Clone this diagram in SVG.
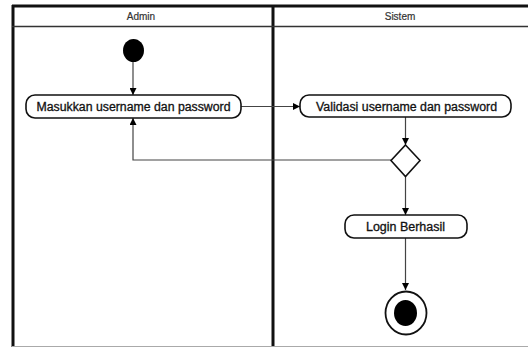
<svg xmlns="http://www.w3.org/2000/svg" width="528" height="347" viewBox="0 0 528 347">
  <style>
    .lane { fill: none; stroke: #111; stroke-width: 3; }
    .head { fill: none; stroke: #333; stroke-width: 1.5; }
    .hdr { font-family: "Liberation Sans", Arial, sans-serif; font-size: 10px; fill: #333; stroke: #333; stroke-width: 0.2; text-anchor: middle; }
    .act rect { fill: #fff; stroke: #111; stroke-width: 1.6; }
    .act text { font-family: "Liberation Sans", Arial, sans-serif; font-size: 12px; fill: #111; stroke: #111; stroke-width: 0.3; text-anchor: middle; }
    .flow { fill: none; stroke: #444; stroke-width: 1.2; }
  </style>
  <defs>
    <marker id="arrow" viewBox="0 0 10 10" refX="10" refY="5" markerWidth="7" markerHeight="7" markerUnits="userSpaceOnUse" orient="auto">
      <path d="M0,0 L10,5 L0,10 z" fill="#000"/>
    </marker>
  </defs>
  <rect width="528" height="347" fill="#fff"/>

  <!-- swimlanes -->
  <g id="lanes">
    <line class="lane" x1="12" y1="6" x2="528" y2="6"/>
    <line class="lane" x1="13" y1="5" x2="13" y2="347"/>
    <line class="lane" x1="273" y1="5" x2="273" y2="347"/>
    <line class="head" x1="12" y1="26.5" x2="528" y2="26.5"/>
    <line x1="12" y1="346.5" x2="528" y2="346.5" stroke="#aaa" stroke-width="1"/>
    <text class="hdr" x="141" y="19.5">Admin</text>
    <text class="hdr" x="400" y="19.5">Sistem</text>
  </g>

  <!-- connectors -->
  <g id="connectors">
    <line class="flow" x1="133" y1="61" x2="133" y2="95" marker-end="url(#arrow)"/>
    <line class="flow" x1="241" y1="106.5" x2="300" y2="106.5" marker-end="url(#arrow)"/>
    <line class="flow" x1="405.5" y1="117" x2="405.5" y2="145" marker-end="url(#arrow)"/>
    <polyline class="flow" points="391,160 133,160 133,118" marker-end="url(#arrow)"/>
    <line class="flow" x1="405.5" y1="176" x2="405.5" y2="215" marker-end="url(#arrow)"/>
    <line class="flow" x1="405.5" y1="238" x2="405.5" y2="290" marker-end="url(#arrow)"/>
  </g>

  <!-- nodes -->
  <g id="start">
    <ellipse cx="133.5" cy="50.5" rx="10.5" ry="11.5" fill="#000"/>
  </g>
  <g id="masukkan" class="act">
    <rect x="26" y="95" width="215" height="23" rx="9"/>
    <text x="133.5" y="110.5" textLength="194" lengthAdjust="spacingAndGlyphs">Masukkan username dan password</text>
  </g>
  <g id="validasi" class="act">
    <rect x="300" y="95" width="211" height="22" rx="9"/>
    <text x="406.5" y="110.5" textLength="181" lengthAdjust="spacingAndGlyphs">Validasi username dan password</text>
  </g>
  <g id="decision">
    <polygon points="405.5,145 420,160.5 405.5,176.5 391,160.5" fill="#fff" stroke="#111" stroke-width="1.6"/>
  </g>
  <g id="login" class="act">
    <rect x="345" y="215" width="122" height="23" rx="9"/>
    <text x="405.5" y="230.5" textLength="79" lengthAdjust="spacingAndGlyphs">Login Berhasil</text>
  </g>
  <g id="end">
    <ellipse cx="406" cy="313" rx="20.5" ry="21.5" fill="#fff" stroke="#111" stroke-width="1.8"/>
    <ellipse cx="405.5" cy="313" rx="11.5" ry="13" fill="#000"/>
  </g>
</svg>
